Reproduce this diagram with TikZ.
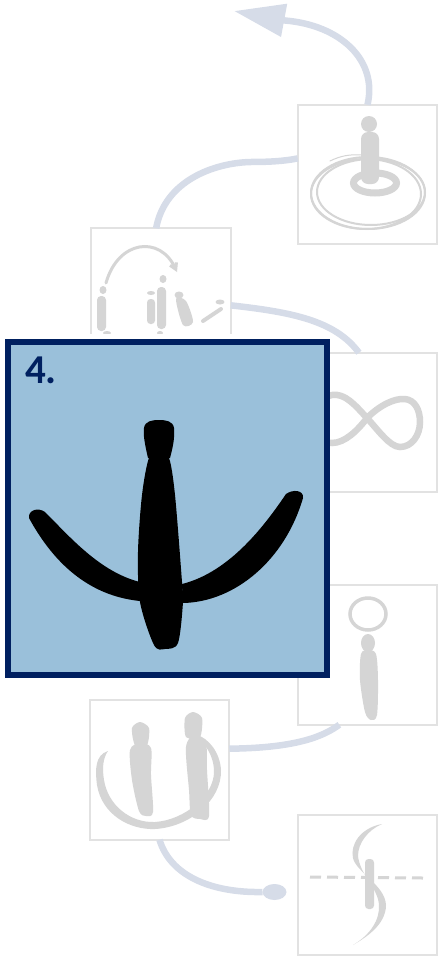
\documentclass[tikz,border=0pt]{standalone}
\usepackage{fontspec}
\usetikzlibrary{arrows.meta,shapes.geometric}
\setmainfont{Carlito}
\definecolor{boxColor}{RGB}{226,226,226}
\definecolor{linkColor}{RGB}{214,220,232}
\definecolor{figColor}{RGB}{213,213,213}
\definecolor{mainColor}{RGB}{154,192,218}
\definecolor{navyColor}{RGB}{0,32,96}
\begin{document}
\begin{tikzpicture}[x=1pt,y=-1pt,
 box/.style={draw=boxColor,line width=2pt,fill=white,minimum size=139.5pt,inner sep=0pt,outer sep=0pt},
 link/.style={draw=linkColor,line width=6.5pt},
 fig/.style={fill=figColor},
 figline/.style={draw=figColor,line cap=round},
 person/.style={fill=black}]
\useasboundingbox (0,0) rectangle (438,956);
\node[box] (still) at (367.5,174.5) {};
\node[box] (jump) at (161,298) {};
\node[box] (eight) at (367.5,422.5) {};
\node[box] (halo) at (367.5,655) {};
\node[box] (pair) at (159.5,770) {};
\node[box] (twist) at (367.5,885) {};
\node[ellipse,fill=linkColor,minimum width=24pt,minimum height=16pt,inner sep=0pt,outer sep=0pt] (start) at (274.5,892) {};
\coordinate (tip) at (234,11);
\draw[link] (start.west) .. controls (210,893) and (170,875) .. (pair.-90);
\draw[link] (pair.17) .. controls (300,748) and (325,735) .. (halo.-112);
\draw[link] (jump.-6.5) .. controls (290,312) and (335,320) .. (eight.97);
\draw[link] (jump.94) .. controls (165,180) and (215,163) .. (250,162) .. controls (270,162) and (285,161) .. (still.167.5);
\draw[link,-{Triangle[length=51pt,width=32pt]}] (still.north) .. controls (378,60) and (340,25) .. (285,20.5) -- (tip);
\fill[fig] (369,124) circle (8);
\fill[fig,rounded corners=7pt] (361,132) rectangle (379,184);
\draw[figline,line width=7pt] (375,183) ellipse (21.5 and 10);
\draw[figline,line width=2pt] (368,193) ellipse (57 and 36);
\draw[figline,line width=2pt] (371,192) ellipse (54 and 33);
\draw[figline,line width=2pt] (366,194) ellipse (55 and 35);
\draw[figline,line width=1pt] (330,161) .. controls (340,156) and (350,154) .. (362,155);
\draw[figline,line width=3pt,-{Straight Barb[length=6pt,width=7pt]}] (106,283) .. controls (118,240) and (160,235) .. (177,272);
\fill[fig] (103,290) ellipse (3.5 and 4);
\fill[fig,rounded corners=4pt] (97,296) rectangle (106,331);
\fill[fig] (107,333) ellipse (4 and 2);
\fill[fig] (151,293) ellipse (4 and 2);
\fill[fig,rounded corners=3.5pt] (147,299) rectangle (155,324);
\fill[fig] (163,279) ellipse (3.5 and 4);
\fill[fig,rounded corners=4pt] (157,287) rectangle (166,329);
\fill[fig] (160,333) ellipse (3 and 2);
\fill[fig] (179,295) ellipse (4.5 and 3.5);
\fill[fig] plot[smooth cycle,tension=.5] coordinates {(176,299) (186,301) (193,322) (183,325)};
\fill[fig] (220,302) ellipse (4.5 and 2.5);
\draw[figline,line width=4pt] (221,309) -- (203,321);
\draw[figline,line width=6.5pt] (367,418) .. controls (380,405) and (395,398) .. (405,399) .. controls (415,400) and (420,410) .. (420,422) .. controls (420,435) and (412,447) .. (400,447) .. controls (390,447) and (378,430) .. (367,418) .. controls (355,405) and (345,393) .. (332,395) .. controls (318,398) and (305,408) .. (305,420) .. controls (305,432) and (318,443) .. (332,443) .. controls (345,443) and (358,430) .. (367,418) -- cycle;
\draw[figline,line width=3.5pt] (368,614) ellipse (18 and 16);
\fill[fig] (368,643) ellipse (7 and 9);
\fill[fig] plot[smooth cycle,tension=.5] coordinates {(361,654) (368,650) (376,654) (378,680) (377,715) (371,720) (365,712) (360,680)};
\fill[fig] plot[smooth cycle,tension=.45] coordinates {(132,728) (140,722) (149,728) (147,745) (135,745)};
\fill[fig] plot[smooth cycle,tension=.5] coordinates {(130,750) (140,743) (151,748) (151,775) (153,812) (146,816) (139,811) (132,780)};
\fill[fig] plot[smooth cycle,tension=.45] coordinates {(185,718) (193,712) (202,718) (200,737) (186,737)};
\fill[fig] plot[smooth cycle,tension=.5] coordinates {(186,747) (195,734) (206,745) (207,770) (209,816) (200,819) (191,815) (189,790)};
\fill[fig] (108,751) .. controls (95,755) and (95,770) .. (97,785) .. controls (102,815) and (130,830) .. (155,829) .. controls (190,827) and (222,800) .. (221,770) .. controls (220,752) and (208,738) .. (197,735) .. controls (205,745) and (214,755) .. (214,772) .. controls (214,795) and (185,820) .. (155,822) .. controls (130,823) and (108,805) .. (104,780) .. controls (102,768) and (103,758) .. (108,751) -- cycle;
\fill[fig] (382,824) .. controls (360,828) and (350,845) .. (353,858) .. controls (356,872) and (385,885) .. (386,905) .. controls (386,925) and (365,938) .. (353,945) .. controls (370,935) and (380,920) .. (379,905) .. controls (378,888) and (360,875) .. (358,856) .. controls (358,843) and (368,830) .. (382,824) -- cycle;
\draw[figColor,line width=3pt,dash pattern=on 11pt off 6pt] (310,877) -- (423,878);
\fill[fig,rounded corners=3.5pt] (365,859) rectangle (374,909);
\fill[white] (5,334) rectangle (330,339);
\node[draw=navyColor,line width=5.7pt,fill=mainColor,minimum width=319pt,minimum height=333pt,inner sep=0pt,outer sep=0pt] (main) at (167.5,508.5) {};
\node[anchor=base west,inner sep=0pt,text=navyColor,font=\fontsize{41pt}{41pt}\selectfont\bfseries] (number) at (25,383) {4.};
\fill[person] (148,458) .. controls (145,445) and (143,435) .. (144,428) .. controls (145,421) and (152,420) .. (159,420) .. controls (166,420) and (173,421) .. (174,428) .. controls (175,440) and (172,450) .. (170,458) -- cycle;
\fill[person] plot[smooth cycle,tension=.5] coordinates {(149,458) (159,454) (169,458) (175,495) (182,582) (183,602) (178,643) (165,649) (154,645) (140,602) (138,552) (142,495)};
\fill[person] (29,518) .. controls (28,510) and (38,507) .. (45,512) .. controls (70,537) and (100,572) .. (140,582) -- (140,601) .. controls (100,597) and (60,575) .. (29,518) -- cycle;
\fill[person] (303,498) .. controls (304,490) and (293,489) .. (286,494) .. controls (265,525) and (230,572) .. (182,584) -- (183,603) .. controls (235,602) and (285,560) .. (303,498) -- cycle;
\end{tikzpicture}
\end{document}
